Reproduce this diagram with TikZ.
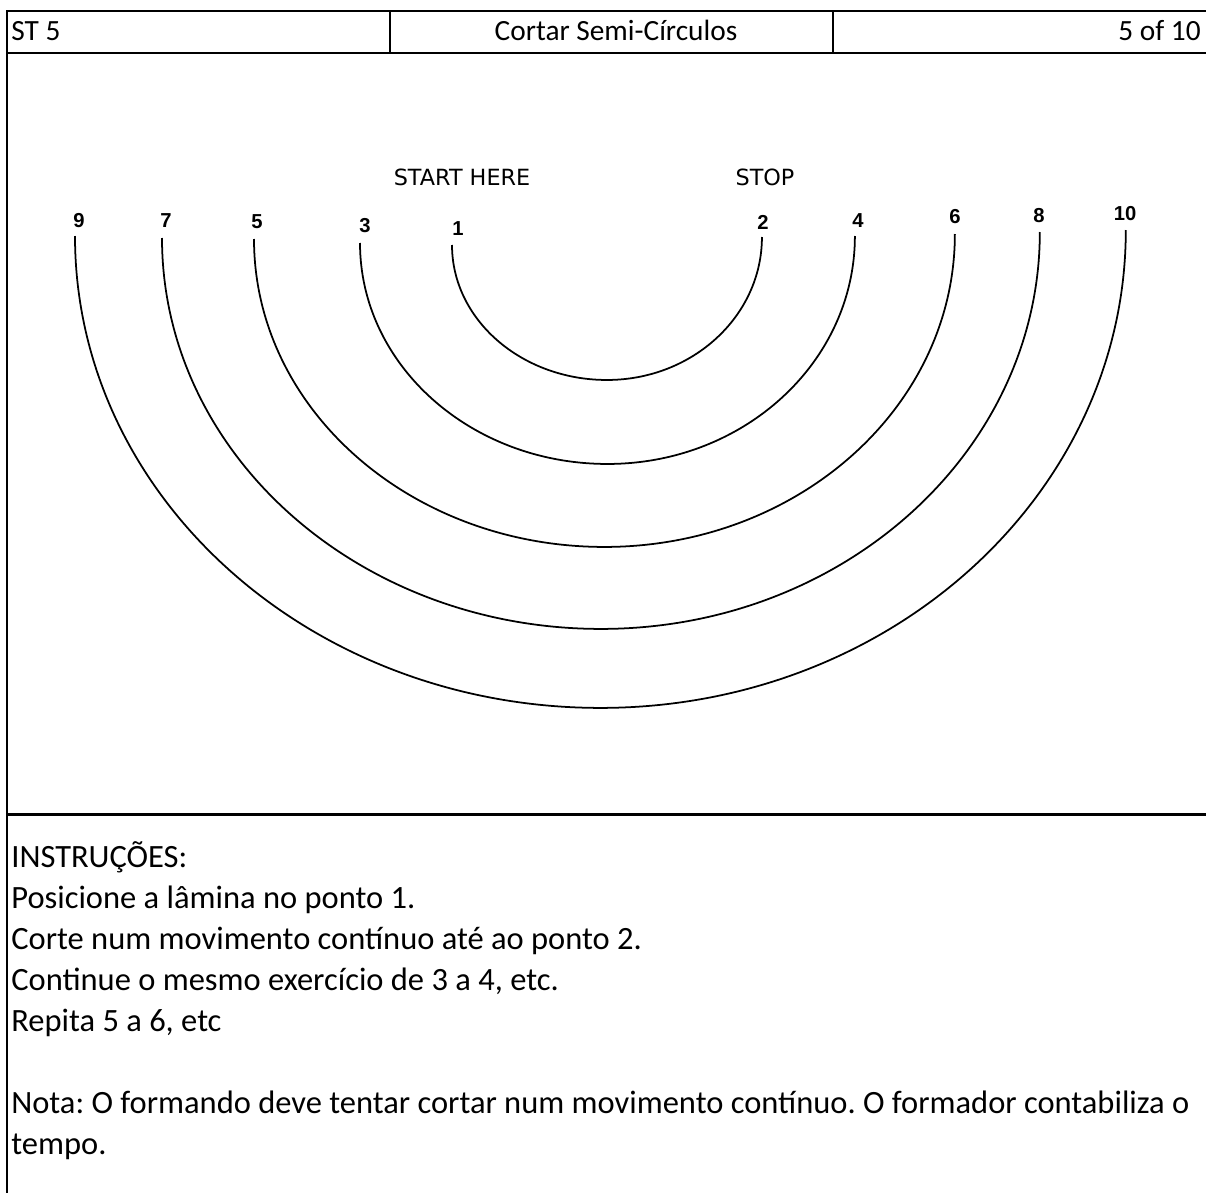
\documentclass[tikz,border=0pt]{standalone}
\usepackage{fontspec}
\setmainfont{Carlito}
\newfontfamily\tagfont{DejaVu Sans}
\newfontfamily\numfont{Liberation Sans}
\usepackage{tikz}
\usetikzlibrary{positioning}
\frenchspacing

\begin{document}
\begin{tikzpicture}[x=0.02cm,y=-0.02cm,
    frm/.style={line width=1.7pt},
    sep/.style={line width=1.1pt},
    cut/.style={line width=1pt},
    hd/.style={font=\fontsize{16.7}{20}\selectfont,inner sep=0pt,anchor=base},
    txt/.style={font=\fontsize{18.5}{22}\selectfont,inner sep=0pt,anchor=base west},
    num/.style={font=\numfont\bfseries\fontsize{11.5}{14}\selectfont,inner sep=0pt},
    tag/.style={font=\tagfont\fontsize{12.7}{15}\selectfont,inner sep=0pt}
    ]
    \useasboundingbox (0,0) rectangle (1206,1193);
    % table rules
    \draw[frm] (1206,11) -- (7,11) -- (7,1193);
    \draw[frm] (7,53) -- (1206,53);
    \draw[frm] (7,814) -- (1206,814);
    \draw[sep] (390,11) -- (390,53);
    \draw[sep] (833,11) -- (833,53);
    % header
    \path
        (11,41)     node[hd,anchor=base west] (st) {ST 5}
        (616,41)    node[hd] (ttl) {Cortar Semi-Círculos}
        (1201,41)   node[hd,anchor=base east] (pg) {5 of 10}
        ;
    % start / stop
    \path
        (462,177)   node[tag] (start) {START HERE}
        (765,177)   node[tag] (stop) {STOP}
        ;
    % point numbers
    \path
        (458,229)   node[num] (p1) {1}
        (365,226)   node[num] (p3) {3}
        (257,222)   node[num] (p5) {5}
        (166,221)   node[num] (p7) {7}
        (79,221)    node[num] (p9) {9}
        (763,222)   node[num] (p2) {2}
        (858,221)   node[num] (p4) {4}
        (955,217)   node[num] (p6) {6}
        (1039,216)  node[num] (p8) {8}
        (1125,214)  node[num] (p10) {10}
        ;
    % semi-circles to cut
    \foreach \xl/\yl/\xr/\yr/\yb in {452/245/762/237/380, 360/243/855/236/464,
            254/239/955/234/547, 162/238/1040/232/629, 75/236/1126/230/708}{
        \pgfmathsetmacro\ra{(\xr-\xl)/100}
        \pgfmathsetmacro\rl{(\yb-\yl)/50}
        \pgfmathsetmacro\rr{(\yb-\yr)/50}
        \draw[cut] (\xl,\yl) arc[start angle=180,end angle=270,x radius=\ra cm,y radius=\rl cm]
            arc[start angle=270,end angle=360,x radius=\ra cm,y radius=\rr cm];
    }
    % instructions
    \path
        (11,867)    node[txt] (ins) {INSTRUÇÕES:}
     ++ (0,41)      node[txt] (ln1) {Posicione a lâmina no ponto 1.}
     ++ (0,41)      node[txt] (ln2) {Corte num movimento contínuo até ao ponto 2.}
     ++ (0,41)      node[txt] (ln3) {Continue o mesmo exercício de 3 a 4, etc.}
     ++ (0,41)      node[txt] (ln4) {Repita 5 a 6, etc}
     ++ (0,82)      node[txt] (nota) {Nota: O formando deve tentar cortar num movimento contínuo. O formador contabiliza o}
     ++ (0,41)      node[txt] (tmp) {tempo.}
     ;
\end{tikzpicture}
\end{document}
